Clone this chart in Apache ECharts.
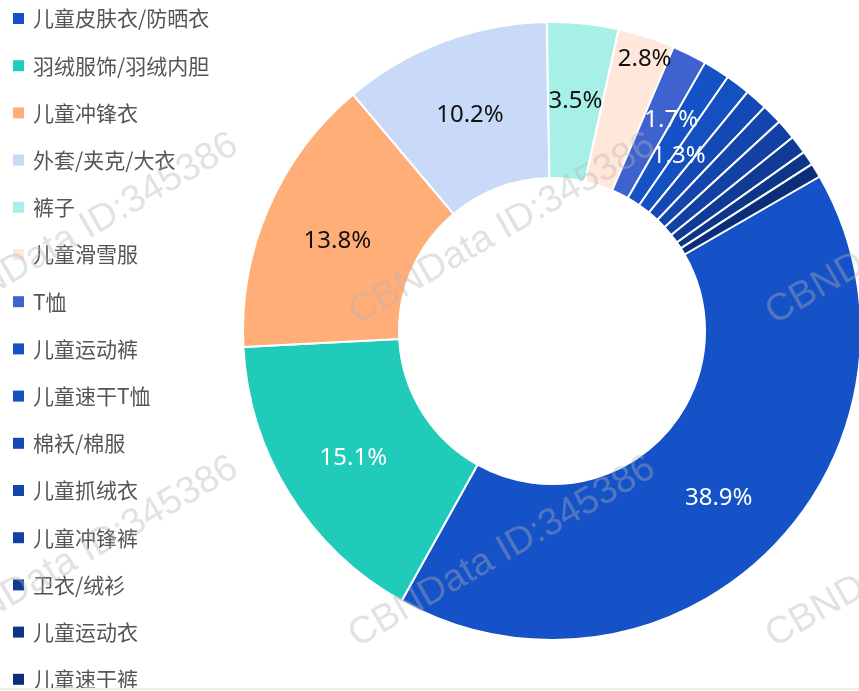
<!DOCTYPE html>
<html>
<head>
<meta charset="utf-8">
<script src="https://cdn.jsdelivr.net/npm/echarts@6/dist/echarts.min.js"></script>
<style>
  html, body { margin: 0; padding: 0; background: #fff; }
  #chart { width: 859px; height: 691px; }
</style>
</head>
<body>
<div id="chart"></div>
<script>
// 品类占比数据
var categories = [
  '儿童皮肤衣/防晒衣', '羽绒服饰/羽绒内胆', '儿童冲锋衣', '外套/夹克/大衣', '裤子',
  '儿童滑雪服', 'T恤', '儿童运动裤', '儿童速干T恤', '棉袄/棉服',
  '儿童抓绒衣', '儿童冲锋裤', '卫衣/绒衫', '儿童运动衣', '儿童速干裤'
];
var values = [38.9, 15.1, 13.8, 10.2, 3.5, 2.8, 1.7, 1.3, 1.2, 1.1, 1.0, 1.0, 0.9, 0.7, 0.7];

var colors = [
  '#1652C7', '#21CBBA', '#FFAE78', '#C8DAF8', '#A6F0E8',
  '#FFE7DB', '#3E63CE', '#1452C6', '#1450C0', '#1449B5',
  '#1345AD', '#1240A3', '#0F3A96', '#0D3588', '#0B2E7A'
];

var LABEL_MIN = 1.3;
var watermark = 'CBNData ID:345386';

// 小扇区标签挤在一起，原图里被推开了一点
var labelNudge = {
  '儿童滑雪服': [21, -52],
  'T恤': [15, -4],
  '儿童运动裤': [2, 20]
};

// 深色背景用白字，浅色背景用黑字
function textColorFor(hex) {
  var r = parseInt(hex.slice(1, 3), 16);
  var g = parseInt(hex.slice(3, 5), 16);
  var b = parseInt(hex.slice(5, 7), 16);
  var lum = 0.2126 * r + 0.7152 * g + 0.0722 * b;
  return lum > 175 ? '#111' : '#fff';
}

var pieData = categories.map(function (name, i) {
  return {
    name: name,
    value: values[i],
    label: { show: values[i] >= LABEL_MIN, color: textColorFor(colors[i]) }
  };
});

// 水印
var marks = [];
[85, 502, 919].forEach(function (x) {
  [229, 552].forEach(function (y) {
    marks.push({
      type: 'text',
      x: x,
      y: y,
      rotation: Math.PI / 6,
      z: 100,
      silent: true,
      style: {
        text: watermark,
        fill: 'rgba(180,180,180,0.38)',
        font: '38px "Liberation Sans", Arial, sans-serif',
        align: 'center',
        verticalAlign: 'middle'
      }
    });
  });
});
marks.push({
  type: 'rect',
  z: 100,
  silent: true,
  shape: { x: 0, y: 688, width: 859, height: 2 },
  style: { fill: '#eeeeee' }
});

var chart = echarts.init(document.getElementById('chart'), null, { renderer: 'canvas' });

chart.setOption({
  animation: false,
  color: colors,
  legend: {
    orient: 'vertical',
    left: 13,
    top: 8,
    height: 760,
    padding: 0,
    icon: 'rect',
    itemWidth: 11,
    itemHeight: 11,
    itemGap: 26.2,
    itemStyle: { borderWidth: 0, borderColor: 'transparent' },
    textStyle: {
      fontSize: 21,
      lineHeight: 21,
      color: '#555555',
      fontFamily: '"Noto Sans CJK SC", sans-serif',
      padding: [0, 0, 0, 4]
    },
    data: categories
  },
  graphic: marks,
  series: [{
    type: 'pie',
    center: [552, 331],
    radius: [153, 309],
    startAngle: 30,
    clockwise: true,
    avoidLabelOverlap: false,
    itemStyle: { borderColor: '#fff', borderWidth: 2 },
    label: {
      show: true,
      position: 'inside',
      fontSize: 24,
      fontFamily: '"Noto Sans", sans-serif',
      formatter: function (p) { return p.value.toFixed(1) + '%'; }
    },
    labelLine: { show: false },
    labelLayout: function (p) {
      var d = labelNudge[categories[p.dataIndex]] || [0, 0];
      return { hideOverlap: false, dx: d[0], dy: d[1] + 3 };
    },
    emphasis: { disabled: true },
    data: pieData
  }]
});
</script>
</body>
</html>
